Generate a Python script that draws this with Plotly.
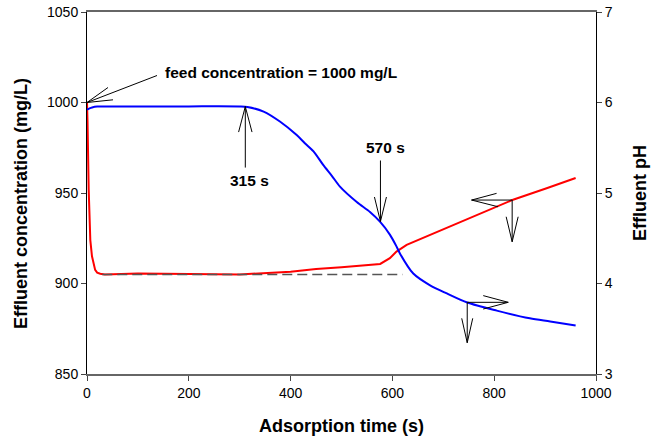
import plotly.graph_objects as go

# ---- data ----
ph_time = [0, 5, 10, 20, 50, 100, 200, 300, 315, 347, 379, 412, 428, 445, 464, 481, 497, 530,
           556, 576, 595, 608, 615, 641, 674, 707, 747, 805, 870, 910, 960]
ph_value = [5.92, 5.935, 5.945, 5.955, 5.956, 5.956, 5.957, 5.956, 5.95, 5.90, 5.79, 5.64, 5.55,
            5.46, 5.31, 5.19, 5.07, 4.90, 4.79, 4.68, 4.54, 4.41, 4.33, 4.11, 3.98, 3.89, 3.79,
            3.70, 3.615, 3.58, 3.535]

conc_time = [0, 1, 3.3, 6.5, 9.8, 13, 16, 20, 26, 35, 100, 200, 300, 400, 450, 500, 550, 576,
             595, 608, 628, 674, 739, 812, 837, 903, 955, 960]
conc_value = [1000, 990, 952, 924, 915, 910, 907.5, 906, 905.4, 905, 905.5, 905.3, 905.0, 906.5,
              908, 909, 910, 910.8, 914, 917.6, 921.3, 926.8, 935, 943.4, 946.3, 952.6, 958.1, 958.3]

baseline_time = [30, 620]
baseline_value = [905, 905]

x_ticks = [0, 200, 400, 600, 800, 1000]
y_ticks = [850, 900, 950, 1000, 1050]
y2_ticks = [3, 4, 5, 6, 7]

FONT = "Liberation Sans, Arial, sans-serif"
W, H = 659, 438
ML, MR, MT, MB = 87, 63, 12, 64
X_RANGE = [0, 1000]
Y_RANGE = [850, 1050]
SX = (W - ML - MR) / (X_RANGE[1] - X_RANGE[0])
SY = (H - MT - MB) / (Y_RANGE[1] - Y_RANGE[0])


def ph_to_conc(p):
    return Y_RANGE[0] + (p - 3) * (Y_RANGE[1] - Y_RANGE[0]) / 4


def off(x, y, dx, dy):
    """point offset by screen pixels (dy positive = down)"""
    return x + dx / SX, y - dy / SY


fig = go.Figure()
fig.add_trace(go.Scatter(x=conc_time, y=conc_value, mode="lines",
                         line=dict(color="#ff0000", width=2), yaxis="y", showlegend=False))
fig.add_trace(go.Scatter(x=ph_time, y=ph_value, mode="lines",
                         line=dict(color="#0000ff", width=2, shape="spline", smoothing=0.8),
                         yaxis="y2", showlegend=False))
fig.add_trace(go.Scatter(x=baseline_time, y=baseline_value, mode="lines",
                         line=dict(color="#555555", width=1.5, dash="10px,5px"),
                         yaxis="y", showlegend=False))

shapes = []


def seg(x0, y0, x1, y1):
    shapes.append(dict(type="line", xref="x", yref="y", x0=x0, y0=y0, x1=x1, y1=y1,
                       line=dict(color="#000000", width=1)))


def arrow(tx, ty, tail, heads):
    x1, y1 = off(tx, ty, *tail)
    seg(tx, ty, x1, y1)
    for h in heads:
        hx, hy = off(tx, ty, *h)
        seg(tx, ty, hx, hy)


# feed concentration arrow
arrow(0, 1000, (70, -27), [(21, -15), (26, -2.7)])
# 315 s arrow (tip on blue curve)
t315 = (311, ph_to_conc(5.955))
arrow(*t315, (0, 61), [(-6.7, 25.5), (6.7, 25.5)])
# 570 s arrow
t570 = (576.5, ph_to_conc(4.685))
arrow(*t570, (0, -61), [(-6, -24.5), (6, -24.5)])
# red curve -> left axis arrow
corner_r = (835.3, 946.1)
lx, ly = off(*corner_r, -40.6, 0)
seg(corner_r[0], corner_r[1], lx, ly)
arrow(lx, ly, (0, 0), [(25, -6.7), (26.5, 6.7)])
dx_, dy_ = off(*corner_r, 0, 41.7)
seg(corner_r[0], corner_r[1], dx_, dy_)
arrow(dx_, dy_, (0, 0), [(-6, -25), (6, -25)])
# blue curve -> right axis arrow
corner_b = (747, ph_to_conc(3.792))
rx, ry = off(*corner_b, 41, 0)
seg(corner_b[0], corner_b[1], rx, ry)
arrow(rx, ry, (0, 0), [(-25, -6.7), (-25, 6.7)])
bx, by = off(*corner_b, 0, 40.4)
seg(corner_b[0], corner_b[1], bx, by)
arrow(bx, by, (0, 0), [(-5.5, -24.4), (5.5, -24.4)])

ann_font = dict(family=FONT, size=15.5, color="#000000")
title_font = dict(family=FONT, size=18, color="#000000")
annotations = [
    dict(text="<b>feed concentration = 1000 mg/L</b>", x=0, y=1000, xref="x", yref="y",
         xanchor="left", yanchor="middle", xshift=76, yshift=30, showarrow=False, font=ann_font),
    dict(text="<b>315 s</b>", x=t315[0], y=t315[1], xref="x", yref="y", xanchor="center",
         yanchor="middle", xshift=4, yshift=-74, showarrow=False, font=ann_font),
    dict(text="<b>570 s</b>", x=t570[0], y=t570[1], xref="x", yref="y", xanchor="center",
         yanchor="middle", xshift=5, yshift=74, showarrow=False, font=ann_font),
    dict(text="<b>Adsorption time (s)</b>", x=0.5, y=0, xref="paper", yref="paper",
         xanchor="center", yanchor="middle", yshift=-52, showarrow=False, font=title_font),
    dict(text="<b>Effluent concentration (mg/L)</b>", x=0, y=(H - MB - 204) / (H - MT - MB),
         xref="paper", yref="paper", xanchor="center", yanchor="middle", xshift=-66,
         textangle=-90, showarrow=False, font=title_font),
    dict(text="<b>Effluent pH</b>", x=1, y=0.5, xref="paper", yref="paper",
         xanchor="center", yanchor="middle", xshift=44, textangle=-90, showarrow=False,
         font=title_font),
]

tick_font = dict(family=FONT, size=14, color="#000000")
fig.update_layout(
    template="none",
    width=W, height=H, autosize=False,
    margin=dict(l=ML, r=MR, t=MT, b=MB, pad=0, autoexpand=False),
    paper_bgcolor="white", plot_bgcolor="white",
    shapes=shapes, annotations=annotations,
    xaxis=dict(range=X_RANGE, tickvals=x_ticks, ticks="outside", ticklen=5, tickcolor="#444",
               showline=True, linecolor="#666666", linewidth=1.5, mirror=True, automargin=False,
               showgrid=False, zeroline=False, tickfont=tick_font),
    yaxis=dict(range=Y_RANGE, tickvals=y_ticks, ticks="outside", ticklen=5, tickcolor="#444",
               showline=True, linecolor="#000000", linewidth=1, showgrid=False, automargin=False,
               zeroline=False, tickfont=tick_font),
    yaxis2=dict(range=[3, 7], tickvals=y2_ticks, ticks="outside", ticklen=5, tickcolor="#444",
                showline=True, linecolor="#000000", linewidth=1, showgrid=False, automargin=False,
                zeroline=False, overlaying="y", side="right", tickfont=tick_font),
    showlegend=False,
)

fig.write_html("out.html", config={"displayModeBar": False},
               post_script="document.body.style.margin='0';document.body.style.padding='0';")
